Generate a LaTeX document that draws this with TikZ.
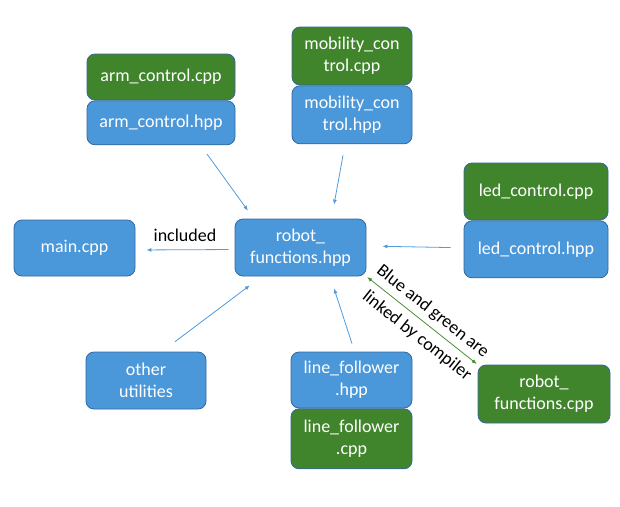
\documentclass[tikz,border=0pt]{standalone}
\usepackage{fontspec}
\setmainfont{Carlito}
\usetikzlibrary{positioning,calc,arrows.meta}
\definecolor{fileblue}{RGB}{74,151,217}
\definecolor{filegreen}{RGB}{64,133,44}
\definecolor{fileedge}{RGB}{52,104,158}
\definecolor{linkblue}{RGB}{80,155,220}
\definecolor{linkgreen}{RGB}{70,145,50}

\begin{document}
\begin{tikzpicture}[x=1pt,y=-1pt]
    \tikzset{every path/.style={>={Latex[length=5pt,width=4pt]}},
      file/.style={draw=fileedge,line width=0.8pt,rounded corners=8pt,text=white,align=center,inner sep=2pt,font=\fontsize{18}{22}\selectfont},
      hppfile/.style={file,fill=fileblue},
      cppfile/.style={file,fill=filegreen},
      include/.style={->,draw=linkblue,line width=0.8pt},
      linked/.style={<->,draw=linkgreen,line width=0.8pt},
      note/.style={text=black,font=\fontsize{18}{22}\selectfont}}
    \useasboundingbox (0,0) rectangle (620,506);
%   source pairs
    \node [cppfile,minimum width=148,minimum height=46]  (armcpp) at (161,77)  {arm\_control.cpp};
    \node [hppfile,minimum width=148,minimum height=44,below=0pt of armcpp]  (armhpp) {arm\_control.hpp};
    \node [cppfile,minimum width=120,minimum height=58]  (mobcpp) at (352,56)  {mobility\_con\\trol.cpp};
    \node [hppfile,minimum width=120,minimum height=58,below=0pt of mobcpp]  (mobhpp) {mobility\_con\\trol.hpp};
    \node [cppfile,minimum width=144,minimum height=57]  (ledcpp) at (536,191.5)  {led\_control.cpp};
    \node [hppfile,minimum width=144,minimum height=57,below=0pt of ledcpp]  (ledhpp) {led\_control.hpp};
    \node [hppfile,minimum width=121,minimum height=56]  (lfhpp) at (351.5,380)  {line\_follower\\.hpp};
    \node [cppfile,minimum width=121,minimum height=60,below=0pt of lfhpp]  (lfcpp) {line\_follower\\.cpp};
%   single files
    \node [hppfile,minimum width=121,minimum height=56]  (main) at (74.5,248)  {main.cpp};
    \node [hppfile,minimum width=131,minimum height=57]  (robothpp) at (300.5,247.5)  {robot\_\\functions.hpp};
    \node [hppfile,minimum width=120,minimum height=57]  (other) at (146,380.5)  {other\\utilities};
    \node [cppfile,minimum width=132,minimum height=58]  (robotcpp) at (544,394)  {robot\_\\functions.cpp};
%   includes
    \draw[include,shorten <=11pt,shorten >=9.8pt] ([xshift=39.6pt]armhpp.south) -- ([xshift=-46.8pt]robothpp.north);
    \draw[include,shorten <=11.2pt,shorten >=14.2pt] ([xshift=-7pt]mobhpp.south) -- ([xshift=31pt]robothpp.north);
    \draw[include,shorten <=13pt,shorten >=16pt] ([yshift=1.5pt]ledhpp.west) -- ([yshift=1.5pt]robothpp.east);
    \draw[include,shorten <=6pt,shorten >=11pt] ([yshift=-2pt]robothpp.west) -- node[note,above=4pt] {included} ([yshift=-2pt]main.east);
    \draw[include,shorten <=16.5pt,shorten >=14.9pt] ([xshift=15.8pt]other.north) -- ([xshift=-38.7pt]robothpp.south);
    \draw[include,shorten <=8.4pt,shorten >=12.6pt] ([xshift=3.1pt]lfhpp.north) -- ([xshift=29.6pt]robothpp.south);
%   linking
    \draw[linked,shorten <=1pt,shorten >=1pt] (robothpp.south east) --
      node[note,sloped,pos=.52,above=2pt] {Blue and green are}
      node[note,sloped,pos=.54,below=4pt] {linked by compiler} (robotcpp.north west);
\end{tikzpicture}
\end{document}
